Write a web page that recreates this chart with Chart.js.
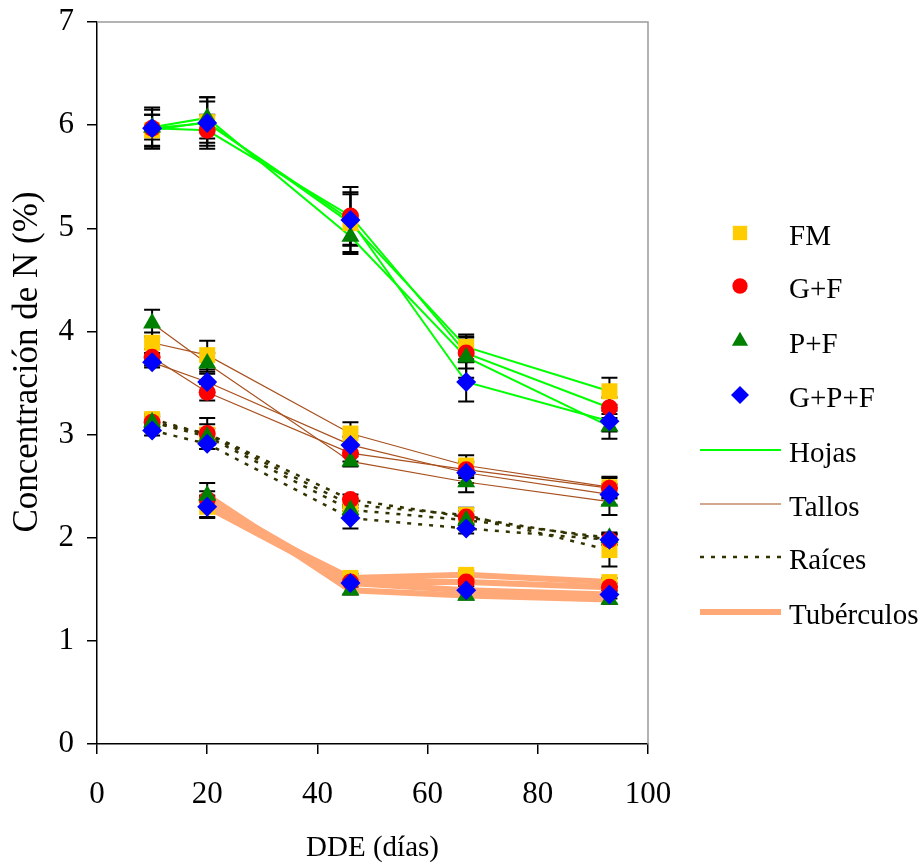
<!DOCTYPE html>
<html>
<head>
<meta charset="utf-8">
<script src="https://cdn.jsdelivr.net/npm/chart.js@4.4.1/dist/chart.umd.min.js"></script>
<style>
html,body{margin:0;padding:0;background:#fff;}
canvas{display:block;}
</style>
</head>
<body>
<canvas id="c" width="919" height="863"></canvas>
<script>
// ---- Data ----
const dde = [10, 20, 46, 67, 93];
const treatments = ['FM', 'G+F', 'P+F', 'G+P+F'];
const organs = ['Hojas', 'Tallos', 'Raíces', 'Tubérculos'];
const yTitle = 'Concentración de N (%)';
const xTitle = 'DDE (días)';

// Hojas
const hojasFM  = [5.95, 6.03, 5.05, 3.85, 3.42];
const hojasGF  = [5.97, 5.95, 5.12, 3.79, 3.26];
const hojasPF  = [5.98, 6.07, 4.92, 3.75, 3.08];
const hojasGPF = [5.97, 6.02, 5.08, 3.51, 3.13];
const hojasErrFM  = [0.15, 0.20, 0.30, 0.12, 0.13];
const hojasErrGF  = [0.20, 0.15, 0.28, 0.15, 0.10];
const hojasErrPF  = [0.12, 0.20, 0.15, 0.20, 0.12];
const hojasErrGPF = [0.18, 0.25, 0.25, 0.19, 0.10];

// Tallos
const tallosFM  = [3.89, 3.77, 3.01, 2.70, 2.49];
const tallosGF  = [3.75, 3.41, 2.82, 2.66, 2.48];
const tallosPF  = [4.08, 3.69, 2.74, 2.54, 2.35];
const tallosGPF = [3.70, 3.51, 2.90, 2.63, 2.42];
const tallosErrFM  = [0.10, 0.14, 0.11, 0.10, 0.10];
const tallosErrGF  = [0.08, 0.08, 0.08, 0.08, 0.10];
const tallosErrPF  = [0.13, 0.10, 0.05, 0.10, 0.13];
const tallosErrGPF = [0.05, 0.10, 0.08, 0.10, 0.10];

// Raíces
const raicesFM  = [3.15, 3.00, 2.32, 2.22, 1.88];
const raicesGF  = [3.12, 3.01, 2.37, 2.20, 1.98];
const raicesPF  = [3.12, 2.98, 2.27, 2.17, 2.00];
const raicesGPF = [3.04, 2.91, 2.19, 2.09, 1.98];
const raicesErrFM  = [0.05, 0.10, 0.06, 0.07, 0.16];
const raicesErrGF  = [0.06, 0.15, 0.05, 0.06, 0.05];
const raicesErrPF  = [0.05, 0.08, 0.05, 0.05, 0.05];
const raicesErrGPF = [0.05, 0.05, 0.10, 0.05, 0.05];

// Tubérculos (no value at 10 DDE)
const tuberFM  = [null, 2.30, 1.61, 1.64, 1.57];
const tuberGF  = [null, 2.37, 1.57, 1.57, 1.52];
const tuberPF  = [null, 2.41, 1.49, 1.44, 1.40];
const tuberGPF = [null, 2.30, 1.56, 1.49, 1.45];
const tuberErrFM  = [null, 0.11, 0.04, 0.04, 0.04];
const tuberErrGF  = [null, 0.08, 0.04, 0.04, 0.04];
const tuberErrPF  = [null, 0.12, 0.04, 0.04, 0.04];
const tuberErrGPF = [null, 0.10, 0.04, 0.04, 0.04];

const xTicks = [0, 20, 40, 60, 80, 100];
const yTicks = [0, 1, 2, 3, 4, 5, 6, 7];

// ---- Styles ----
const FONT = "'Liberation Serif', 'Times New Roman', serif";
const organStyle = {
  'Hojas':      {color: '#00FF00', width: 2,   dash: []},
  'Tallos':     {color: '#A8501E', width: 1.2, dash: []},
  'Raíces':     {color: '#333300', width: 2.5, dash: [4, 7]},
  'Tubérculos': {color: '#FFA878', width: 6,   dash: []}
};
const treatStyle = {
  'FM':    {style: 'rect',     color: '#FFCC00', r: 11.3, order: 4},
  'G+F':   {style: 'circle',   color: '#FF0000', r: 8.5,  order: 3},
  'P+F':   {style: 'triangle', color: '#008000', r: 10.4, order: 2},
  'G+P+F': {style: 'rectRot',  color: '#0000FF', r: 10,   order: 1}
};

const values = {
  'Hojas':      [hojasFM, hojasGF, hojasPF, hojasGPF],
  'Tallos':     [tallosFM, tallosGF, tallosPF, tallosGPF],
  'Raíces':     [raicesFM, raicesGF, raicesPF, raicesGPF],
  'Tubérculos': [tuberFM, tuberGF, tuberPF, tuberGPF]
};
const errors = {
  'Hojas':      [hojasErrFM, hojasErrGF, hojasErrPF, hojasErrGPF],
  'Tallos':     [tallosErrFM, tallosErrGF, tallosErrPF, tallosErrGPF],
  'Raíces':     [raicesErrFM, raicesErrGF, raicesErrPF, raicesErrGPF],
  'Tubérculos': [tuberErrFM, tuberErrGF, tuberErrPF, tuberErrGPF]
};

function pts(arr) {
  const out = [];
  arr.forEach((v, i) => { if (v !== null) out.push({x: dde[i], y: v}); });
  return out;
}

const datasets = [];
// line datasets (behind)
organs.forEach(o => {
  values[o].forEach((arr, ti) => {
    const s = organStyle[o];
    datasets.push({
      label: o + ' ' + treatments[ti] + ' line',
      data: pts(arr),
      borderColor: s.color,
      borderWidth: s.width,
      borderDash: s.dash,
      pointRadius: 0,
      fill: false,
      tension: 0,
      order: 10
    });
  });
});
// marker datasets (front)
organs.forEach(o => {
  values[o].forEach((arr, ti) => {
    const t = treatStyle[treatments[ti]];
    datasets.push({
      label: o + ' ' + treatments[ti],
      data: pts(arr),
      showLine: false,
      pointStyle: t.style,
      pointRadius: t.r,
      pointHoverRadius: t.r,
      backgroundColor: t.color,
      borderColor: t.color,
      pointBorderWidth: 0,
      borderWidth: 0,
      order: t.order
    });
  });
});

const errorBars = {
  id: 'errorBars',
  beforeDatasetsDraw(chart) {
    const ctx = chart.ctx;
    const xs = chart.scales.x, ys = chart.scales.y;
    ctx.save();
    ctx.strokeStyle = '#000';
    ctx.lineWidth = 2;
    organs.forEach(o => {
      values[o].forEach((arr, ti) => {
        const err = errors[o][ti];
        arr.forEach((v, i) => {
          if (v === null || err[i] === null) return;
          const px = xs.getPixelForValue(dde[i]);
          const top = ys.getPixelForValue(v + err[i]);
          const bot = ys.getPixelForValue(v - err[i]);
          ctx.beginPath();
          ctx.moveTo(px, top); ctx.lineTo(px, bot);
          ctx.moveTo(px - 8, top); ctx.lineTo(px + 8, top);
          ctx.moveTo(px - 8, bot); ctx.lineTo(px + 8, bot);
          ctx.stroke();
        });
      });
    });
    ctx.restore();
  }
};

function drawMarker(ctx, style, x, y, r, color) {
  ctx.fillStyle = color;
  ctx.beginPath();
  if (style === 'rect') {
    const s = Math.SQRT1_2 * r;
    ctx.rect(x - s, y - s, 2 * s, 2 * s);
  } else if (style === 'circle') {
    ctx.arc(x, y, r, 0, Math.PI * 2);
  } else if (style === 'triangle') {
    ctx.moveTo(x, y - r);
    ctx.lineTo(x + r * Math.sin(2 * Math.PI / 3), y - r * Math.cos(2 * Math.PI / 3));
    ctx.lineTo(x + r * Math.sin(4 * Math.PI / 3), y - r * Math.cos(4 * Math.PI / 3));
    ctx.closePath();
  } else if (style === 'rectRot') {
    ctx.moveTo(x, y - r); ctx.lineTo(x + r, y); ctx.lineTo(x, y + r); ctx.lineTo(x - r, y);
    ctx.closePath();
  }
  ctx.fill();
}

const customLegend = {
  id: 'customLegend',
  afterDraw(chart) {
    const ctx = chart.ctx;
    const area = chart.chartArea;
    ctx.save();
    // plot frame top/right (gray)
    ctx.strokeStyle = '#9a9a9a';
    ctx.lineWidth = 1.5;
    ctx.beginPath();
    ctx.moveTo(area.left, area.top); ctx.lineTo(area.right, area.top); ctx.lineTo(area.right, area.bottom);
    ctx.stroke();

    // y-axis title
    ctx.save();
    ctx.font = '35px ' + FONT;
    ctx.fillStyle = '#000';
    ctx.textAlign = 'center';
    ctx.textBaseline = 'middle';
    ctx.translate(28, 362);
    ctx.rotate(-Math.PI / 2);
    ctx.fillText(yTitle, 0, 0);
    ctx.restore();

    ctx.font = '29px ' + FONT;
    ctx.fillStyle = '#000';
    ctx.textBaseline = 'alphabetic';
    ctx.textAlign = 'left';
    const textX = 789, markX = 740;
    const rows = [233, 286, 341, 395, 450, 504, 557, 612];
    treatments.forEach((t, i) => {
      const s = treatStyle[t];
      drawMarker(ctx, s.style, markX, rows[i], s.r * 0.9, s.color);
      ctx.fillStyle = '#000';
      ctx.fillText(t, textX, rows[i] + 12);
    });
    organs.forEach((o, i) => {
      const s = organStyle[o];
      const y = rows[4 + i];
      ctx.strokeStyle = s.color;
      ctx.lineWidth = s.width;
      ctx.setLineDash(s.dash);
      ctx.beginPath();
      ctx.moveTo(700, y); ctx.lineTo(781, y);
      ctx.stroke();
      ctx.setLineDash([]);
      ctx.fillStyle = '#000';
      ctx.fillText(o, textX, y + 12);
    });
    ctx.restore();
  }
};

new Chart(document.getElementById('c'), {
  type: 'line',
  data: {datasets},
  options: {
    responsive: false,
    animation: false,
    devicePixelRatio: 1,
    layout: {padding: {left: 0, top: 22, right: 271, bottom: 0}},
    plugins: {legend: {display: false}, tooltip: {enabled: false}},
    scales: {
      x: {
        type: 'linear', min: 0, max: 100,
        afterBuildTicks: s => { s.ticks = xTicks.map(v => ({value: v})); },
        afterFit: s => { s.height = 119; s.paddingLeft = 0; s.paddingRight = 0; },
        ticks: {color: '#000', font: {family: FONT, size: 31}, padding: 22, maxRotation: 0},
        grid: {drawOnChartArea: false, drawTicks: true, tickLength: 10, color: '#000', lineWidth: 1.5},
        border: {color: '#000', width: 1.5},
        title: {display: true, text: xTitle, color: '#000', font: {family: FONT, size: 29, lineHeight: 1.0}, padding: {top: 0, bottom: 0}}
      },
      y: {
        type: 'linear', min: 0, max: 7,
        afterBuildTicks: s => { s.ticks = yTicks.map(v => ({value: v})); },
        afterFit: s => { s.width = 97; s.paddingTop = 0; s.paddingBottom = 0; },
        ticks: {color: '#000', font: {family: FONT, size: 31}, padding: 13},
        grid: {drawOnChartArea: false, drawTicks: true, tickLength: 10, color: '#000', lineWidth: 1.5},
        border: {color: '#000', width: 1.5},
        title: {display: false}
      }
    }
  },
  plugins: [errorBars, customLegend]
});
</script>
</body>
</html>
